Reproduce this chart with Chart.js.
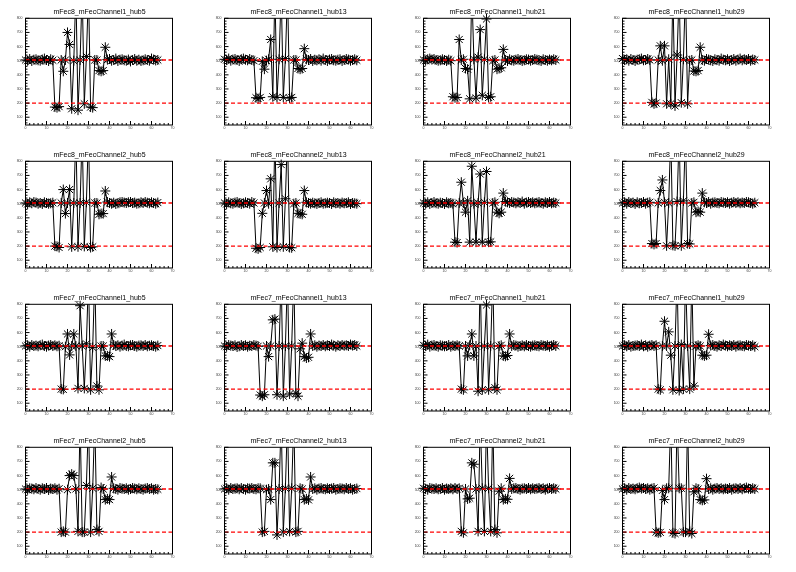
<!DOCTYPE html>
<html><head><meta charset="utf-8">
<script src="https://cdn.jsdelivr.net/npm/chart.js@4"></script>
<style>
html,body{margin:0;padding:0;background:#fff;}
#wrap{position:relative;width:796px;height:572px;overflow:hidden;}
.cell{position:absolute;width:199px;height:143px;}
.cell canvas{display:block;}
</style></head><body><div id="wrap"></div>
<script>
const channels = [0,1,2,3,4,5,6,7,8,9,10,11,12,13,14,15,16,17,18,19,20,21,22,23,24,25,26,27,28,29,30,31,32,33,34,35,36,37,38,39,40,41,42,43,44,45,46,47,48,49,50,51,52,53,54,55,56,57,58,59,60,61,62,63];
const xTickValues = [0,10,20,30,40,50,60,70];
const yTickValues = [100,200,300,400,500,600,700,800];
const refLevels = [505, 200];
const titles = [
  "mFec8_mFecChannel1_hub5","mFec8_mFecChannel1_hub13","mFec8_mFecChannel1_hub21","mFec8_mFecChannel1_hub29",
  "mFec8_mFecChannel2_hub5","mFec8_mFecChannel2_hub13","mFec8_mFecChannel2_hub21","mFec8_mFecChannel2_hub29",
  "mFec7_mFecChannel1_hub5","mFec7_mFecChannel1_hub13","mFec7_mFecChannel1_hub21","mFec7_mFecChannel1_hub29",
  "mFec7_mFecChannel2_hub5","mFec7_mFecChannel2_hub13","mFec7_mFecChannel2_hub21","mFec7_mFecChannel2_hub29"
];

const f8c1h5 = [505,500,512,498,507,510,503,500,508,515,505,498,510,503,
  172,168,175,505,425,505,700,615,160,500,1000,150,505,1000,195,530,1000,172,168,505,505,430,425,430,595,
  508,512,500,505,515,498,507,510,503,500,508,495,505,512,500,507,498,503,510,505,500,515,508,502,505];
const f8c1h13 = [510,505,515,500,508,512,505,498,510,515,507,503,512,505,500,
  238,232,240,495,440,500,510,650,245,1000,240,510,1000,240,515,1000,235,240,505,505,445,440,445,585,510,
  505,512,498,507,503,510,500,515,505,498,508,512,503,500,507,510,498,505,512,508,500,505,510,503];
const f8c1h21 = [505,500,510,515,508,512,505,500,503,510,505,498,507,500,
  245,238,240,650,505,510,445,440,230,1000,510,235,525,720,255,510,795,240,245,500,505,440,445,450,580,
  505,498,510,503,500,507,512,505,498,503,510,508,500,505,512,507,503,498,510,505,500,508,503,510,505];
const f8c1h29 = [515,505,510,500,512,505,498,507,510,515,503,505,512,505,
  205,195,200,505,605,500,605,195,510,195,1000,180,540,1000,203,510,1000,195,500,505,427,425,430,595,
  505,500,512,508,503,498,510,505,500,515,507,503,510,498,505,512,500,508,515,503,510,505,512,500,508,505];
const f8c2h5 = [505,498,510,503,512,508,500,505,498,510,505,500,503,507,
  200,198,190,505,600,430,505,600,195,505,1000,195,505,1000,198,510,1000,190,195,505,505,425,430,430,590,
  512,505,500,507,498,503,510,512,508,505,510,512,505,508,500,503,510,505,512,507,503,510,505,500,508];
const f8c2h13 = [505,498,510,503,500,508,512,505,498,503,510,505,500,512,505,
  185,180,190,432,505,593,500,676,195,1000,190,505,777,195,535,1000,190,188,500,505,432,428,425,593,
  510,505,500,507,503,498,505,510,500,503,507,505,498,510,503,505,500,508,503,505,510,498,505,503,500];
const f8c2h21 = [505,500,510,498,505,512,503,500,507,505,498,510,503,505,500,
  228,225,505,652,505,440,520,228,765,500,228,505,710,228,510,728,228,230,505,510,440,432,440,575,
  515,510,505,512,508,503,510,505,515,500,508,512,505,510,503,507,512,505,500,510,505,512,503,508,505];
const f8c2h29 = [505,510,500,512,505,508,498,510,503,505,512,500,507,510,
  218,212,218,505,593,668,510,202,505,1000,205,202,515,1000,202,520,1000,218,215,505,510,440,445,440,575,
  510,505,512,500,508,510,505,503,512,508,505,510,500,507,512,505,510,503,508,505,512,510,505,500,507];
const f7c1h5 = [505,510,500,512,505,508,503,510,515,505,500,508,512,505,510,503,507,
  200,198,500,590,442,505,590,505,205,790,505,205,520,1000,195,495,1000,222,195,505,505,435,435,430,590,
  512,505,510,500,508,515,505,503,510,512,505,500,508,510,505,512,503,507,510,505,500,508];
const f7c1h13 = [505,500,512,508,505,510,498,503,512,505,510,500,507,505,512,508,503,
  158,150,160,505,430,505,690,695,160,505,1000,150,505,1000,165,505,1000,170,150,485,525,430,420,425,590,
  505,510,500,508,505,512,503,510,505,515,508,500,510,505,512,507,510,505,515,508,512,505];
const f7c1h21 = [510,505,515,500,508,512,505,500,510,507,503,505,512,500,508,505,510,505,
  200,195,505,435,510,590,435,505,185,1000,195,505,795,195,505,1000,210,195,505,510,435,432,438,590,
  505,512,508,500,505,510,503,512,505,500,508,510,505,503,512,508,505,510,500,507,512,505];
const f7c1h29 = [505,510,503,512,500,505,508,510,505,515,503,510,500,508,512,505,510,
  200,195,505,680,505,605,440,195,505,1000,190,515,200,1000,505,200,1000,222,505,510,505,440,435,440,588,
  508,512,505,500,510,505,515,508,503,510,505,512,500,508,510,505,503,512,508,505,510,500];
const f7c2h5 = [505,500,510,508,503,512,505,500,510,505,512,498,508,505,510,500,507,
  200,205,200,500,600,610,600,505,205,1000,200,200,530,1000,200,510,1000,218,205,515,505,430,435,430,590,
  510,505,500,512,508,505,510,500,505,512,508,503,510,505,500,508,512,505,510,500,505,503];
const f7c2h13 = [505,510,500,512,505,508,510,503,512,505,500,510,508,512,505,503,510,510,
  200,205,500,505,430,690,690,180,505,1000,200,510,1000,205,510,1000,200,205,510,505,430,435,428,590,
  505,510,500,508,512,505,503,510,505,508,512,500,505,510,508,503,512,505,510,500,505,508];
const f7c2h21 = [510,505,500,512,508,505,510,503,505,512,500,508,505,510,503,512,505,510,
  205,195,505,435,440,690,680,505,205,1000,510,205,1000,510,205,1000,218,195,490,510,430,435,432,580,
  505,510,512,505,500,508,510,505,512,503,510,505,508,512,505,510,500,508,512,505,510,505];
const f7c2h29 = [505,510,500,512,505,508,503,510,515,508,512,505,510,500,508,512,
  200,195,198,495,430,510,510,1000,195,190,1000,510,510,200,200,1000,205,190,485,510,505,430,425,428,578,
  505,510,500,508,512,505,510,503,508,505,512,500,508,510,505,512,503,510,515,508,505,510,505];

const panelData = [f8c1h5,f8c1h13,f8c1h21,f8c1h29,f8c2h5,f8c2h13,f8c2h21,f8c2h29,
                   f7c1h5,f7c1h13,f7c1h21,f7c1h29,f7c2h5,f7c2h13,f7c2h21,f7c2h29];

const FONT = "'Liberation Sans', Arial, Helvetica, sans-serif";

const frameTicks = {
  id: 'frameTicks',
  afterDatasetsDraw(chart) {
    const ctx = chart.ctx, a = chart.chartArea;
    const xs = chart.scales.x, ys = chart.scales.y;
    ctx.save();
    ctx.strokeStyle = '#ff0000';
    ctx.lineWidth = 1.3;
    ctx.setLineDash([4, 2.5]);
    refLevels.forEach(v => {
      const y = ys.getPixelForValue(v);
      ctx.beginPath(); ctx.moveTo(a.left, y); ctx.lineTo(a.right, y); ctx.stroke();
    });
    ctx.setLineDash([]);
    ctx.strokeStyle = '#000';
    ctx.lineWidth = 1;
    ctx.strokeRect(a.left, a.top, a.right - a.left, a.bottom - a.top);
    ctx.beginPath();
    for (let v = xs.min; v <= xs.max; v += 2) {
      const px = xs.getPixelForValue(v);
      const len = xTickValues.includes(v) ? 4 : 2;
      ctx.moveTo(px, a.bottom); ctx.lineTo(px, a.bottom - len);
    }
    for (let v = 60; v <= ys.max; v += 20) {
      const py = ys.getPixelForValue(v);
      const len = yTickValues.includes(v) ? 4 : 2;
      ctx.moveTo(a.left, py); ctx.lineTo(a.left + len, py);
    }
    ctx.stroke();
    ctx.restore();
  }
};

const wrap = document.getElementById('wrap');
panelData.forEach((vals, i) => {
  const col = i % 4, row = Math.floor(i / 4);
  const div = document.createElement('div');
  div.className = 'cell';
  div.style.left = (col * 199) + 'px';
  div.style.top = (row * 143) + 'px';
  const cv = document.createElement('canvas');
  cv.width = 199; cv.height = 143;
  div.appendChild(cv);
  wrap.appendChild(div);
  const pts = channels.map((c, k) => ({ x: c, y: vals[k] }));
  new Chart(cv, {
    type: 'scatter',
    data: {
      datasets: [
        { data: pts, showLine: true, borderColor: '#000', borderWidth: 1, pointRadius: 0,
          tension: 0, fill: false, clip: { left: 8, right: 8, top: 0, bottom: 0 } },
        { data: pts, showLine: false, pointStyle: 'star', pointRadius: 5,
          pointBorderColor: '#000', pointBorderWidth: 1, pointBackgroundColor: 'rgba(0,0,0,0)',
          clip: { left: 8, right: 8, top: 6, bottom: 6 } }
      ]
    },
    options: {
      responsive: false,
      animation: false,
      devicePixelRatio: 1,
      layout: { padding: { left: 5.5, right: 5.5, top: 0, bottom: 8 } },
      plugins: {
        legend: { display: false },
        tooltip: { enabled: false },
        title: { display: true, text: titles[i], color: '#000',
                 font: { size: 7, family: FONT, weight: 'normal' },
                 padding: { top: 8, bottom: 1.9 } }
      },
      scales: {
        x: {
          type: 'linear', min: 0, max: 70,
          afterBuildTicks: s => { s.ticks = xTickValues.map(v => ({ value: v })); },
          afterFit: s => { s.height = 10; },
          grid: { display: false, drawTicks: false }, border: { display: false },
          ticks: { font: { size: 3.5, family: FONT }, color: '#444', padding: 1,
                   maxRotation: 0, autoSkip: false }
        },
        y: {
          type: 'linear', min: 45, max: 800,
          afterBuildTicks: s => { s.ticks = yTickValues.map(v => ({ value: v })); },
          afterFit: s => { s.width = 20; },
          grid: { display: false, drawTicks: false }, border: { display: false },
          ticks: { font: { size: 3.5, family: FONT }, color: '#444', padding: 3, autoSkip: false }
        },
        yRight: {
          type: 'linear', position: 'right', min: 45, max: 800,
          afterFit: s => { s.width = 21; },
          grid: { display: false, drawTicks: false }, border: { display: false },
          ticks: { display: false }
        }
      }
    },
    plugins: [frameTicks]
  });
});
</script>
</body></html>
